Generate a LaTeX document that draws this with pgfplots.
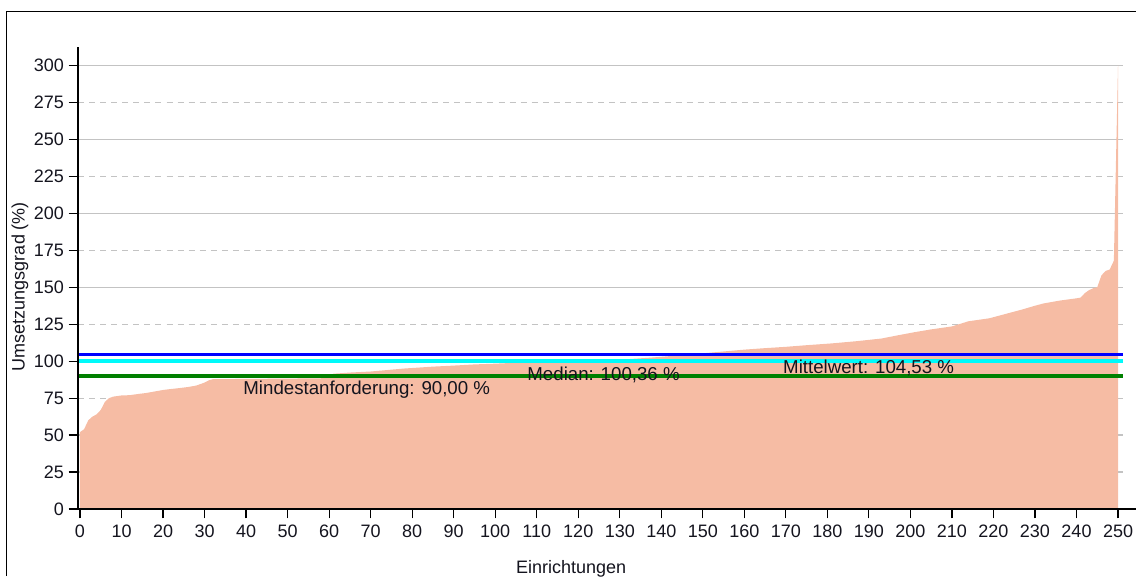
\documentclass[border=0pt]{standalone}
\usepackage{fontspec}
\setmainfont{Liberation Sans}
\usepackage{pgfplots}
\pgfplotsset{compat=1.18}
\usepackage{pgfplotstable}

\definecolor{areafill}{RGB}{246,188,164}
\definecolor{meanblue}{RGB}{0,0,255}
\definecolor{medcyan}{RGB}{0,250,250}
\definecolor{mingreen}{RGB}{0,128,0}
\definecolor{gridgray}{RGB}{195,195,195}
\definecolor{txt}{RGB}{20,20,30}

% sorted values per facility
\pgfplotstableread{
i v
0 52
1 54
2 60
3 62.5
4 64
5 67
6 72.5
7 75
8 76
10 76.8
12 77
14 77.8
16 78.5
18 79.5
20 80.5
22 81.2
24 81.8
26 82.5
28 83.5
30 85.5
31 87
32 87.8
40 88
50 88.2
60 88.5
61 91.5
65 92.3
70 93
78 95
85 96.3
90 97
95 97.8
100 98.3
104 98.8
108 99.8
118 100.2
125 100.4
130 101
138 102.5
146 104.3
154 106.3
160 107.8
165 108.8
170 109.7
175 110.8
181 112
187 113.5
193 115.3
197 117.5
201 119.6
205 121.5
210 123.5
214 127
219 129
223 132
227 135
230 137.5
232 139
236 141
240 142.5
241 143
242 146
243 148
244 149.3
245 150
246 158
247 161
248 162
249 168
250 300
}\facilities

\begin{document}
\begin{tikzpicture}
\useasboundingbox (0pt,0pt) rectangle (852pt,432pt);
\draw[line width=1pt, black] (5pt,0pt) -- (5pt,423.2pt) -- (852pt,423.2pt);
\begin{axis}[
  at={(58.5pt,50.25pt)}, anchor=south west,
  scale only axis, width=783.75pt, height=346.5pt,
  xmin=-0.48, xmax=251.2, ymin=0, ymax=312.5,
  axis lines=left, axis line style={draw=none},
  xtick={0,10,...,250}, ytick={0,50,...,300},
  extra y ticks={25,75,...,275},
  extra y tick style={grid=major, major grid style={gridgray, line width=0.9pt, dash pattern=on 4.5pt off 3.8pt}},
  ymajorgrids, major grid style={gridgray, line width=0.9pt},
  tick align=outside, major tick length=7pt,
  tick style={black, line width=0.9pt},
  ticklabel style={font=\fontsize{13.5}{16}\selectfont, text=txt},
  xticklabel style={yshift=-1.5pt},
  /pgf/number format/assume math mode=true,
  xlabel={Einrichtungen}, ylabel={Umsetzungsgrad (\%)},
  label style={font=\fontsize{13.5}{16}\selectfont, text=txt},
  xlabel style={at={(axis description cs:0.4718,-0.1404)}, anchor=base},
  ylabel style={at={(axis description cs:-0.0555,0.4816)}, anchor=center},
]
\addplot[draw=none, fill=areafill] table[x=i, y=v] {\facilities} \closedcycle;
\addplot[mingreen, line width=2.6pt] coordinates {(-0.48,90) (251.2,90)};
\addplot[medcyan, line width=3pt] coordinates {(-0.48,100.36) (251.2,100.36)};
\addplot[meanblue, line width=2.6pt] coordinates {(-0.48,104.53) (251.2,104.53)};
\node[anchor=west, inner sep=0, text=txt, font=\fontsize{14}{16}\selectfont] at (axis cs:39.3,80.4) {Mindestanforderung: 90,00 \%};
\node[anchor=west, inner sep=0, text=txt, font=\fontsize{14}{16}\selectfont] at (axis cs:107.7,90.5) {Median: 100,36 \%};
\node[anchor=west, inner sep=0, text=txt, font=\fontsize{14}{16}\selectfont] at (axis cs:169.3,95.3) {Mittelwert: 104,53 \%};
\end{axis}
\draw[line width=1.1pt, black] (58.5pt,50.25pt) -- (852pt,50.25pt);
\draw[line width=1.1pt, black] (58.5pt,50.25pt) -- (58.5pt,396.75pt);
\end{tikzpicture}
\end{document}
